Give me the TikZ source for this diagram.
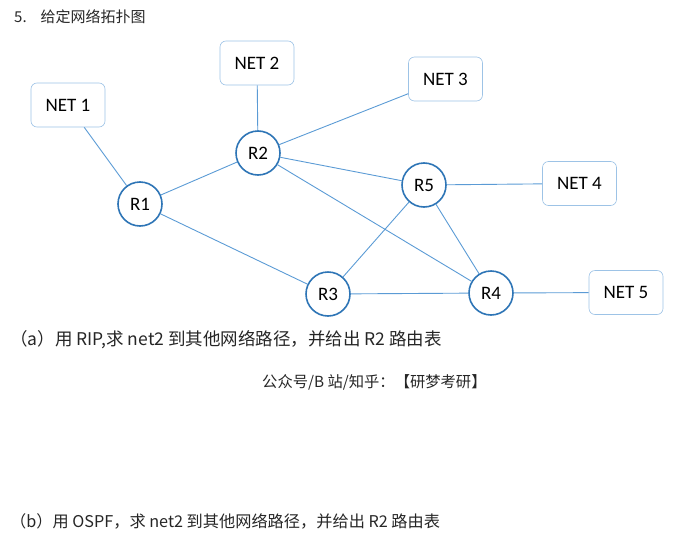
\documentclass[tikz,border=0pt]{standalone}
\usepackage{fontspec}
\setmainfont{Carlito}
\newfontfamily\cjk{Noto Sans CJK SC}
\definecolor{ringblue}{HTML}{2E75B6}
\definecolor{linkblue}{HTML}{5B9BD5}
\definecolor{boxblue}{HTML}{9DC3E6}
\tikzset{
  router/.style={circle, draw=ringblue, line width=1.6pt, fill=white,
    minimum size=44pt, inner sep=0pt, font=\fontsize{19}{22}\selectfont},
  netbox/.style={rectangle, rounded corners=6pt, draw=boxblue, line width=0.6pt,
    fill=white, minimum width=74pt, minimum height=44pt, inner sep=0pt,
    font=\fontsize{19}{22}\selectfont},
  link/.style={draw=linkblue, line width=0.9pt},
  caption/.style={anchor=west, inner sep=0pt, text=black!85}
}
\begin{document}
\begin{tikzpicture}[x=1pt, y=-1pt]
\useasboundingbox (0,0) rectangle (684,543);

% networks
\node[netbox] (n1) at (68,105) {NET 1};
\node[netbox] (n2) at (257,63) {NET 2};
\node[netbox] (n3) at (445.5,79) {NET 3};
\node[netbox] (n4) at (579.5,183.5) {NET 4};
\node[netbox] (n5) at (626,292.5) {NET 5};

% routers
\node[router] (r1) at (140,204) {R1};
\node[router] (r2) at (258,153) {R2};
\node[router] (r3) at (328,294) {R3};
\node[router] (r4) at (491,293) {R4};
\node[router] (r5) at (424,185) {R5};

% links
\draw[link] (n1) -- (r1);
\draw[link] (r1) -- (r2);
\draw[link] (r1) -- (r3);
\draw[link] (n2) -- (r2);
\draw[link] (r2) -- (n3);
\draw[link] (r2) -- (r5);
\draw[link] (r2) -- (r4);
\draw[link] (r5) -- (n4);
\draw[link] (r5) -- (r3);
\draw[link] (r5) -- (r4);
\draw[link] (r3) -- (r4);
\draw[link] (r4) -- (n5);

% text
\node[caption, font=\cjk\fontsize{15}{18}\selectfont] (t0) at (14,17)
  {5.\hspace{14pt}给定网络拓扑图};
\node[caption, font=\cjk\fontsize{17.5}{20}\selectfont] (ta) at (10,340)
  {（a）用 RIP,求 net2 到其他网络路径，并给出 R2 路由表};
\node[caption, font=\cjk\fontsize{15.3}{18}\selectfont] (tm) at (262,382)
  {公众号/B 站/知乎：【研梦考研】};
\node[caption, font=\cjk\fontsize{16.2}{19}\selectfont] (tb) at (10,521)
  {（b）用 OSPF，求 net2 到其他网络路径，并给出 R2 路由表};
\end{tikzpicture}
\end{document}
